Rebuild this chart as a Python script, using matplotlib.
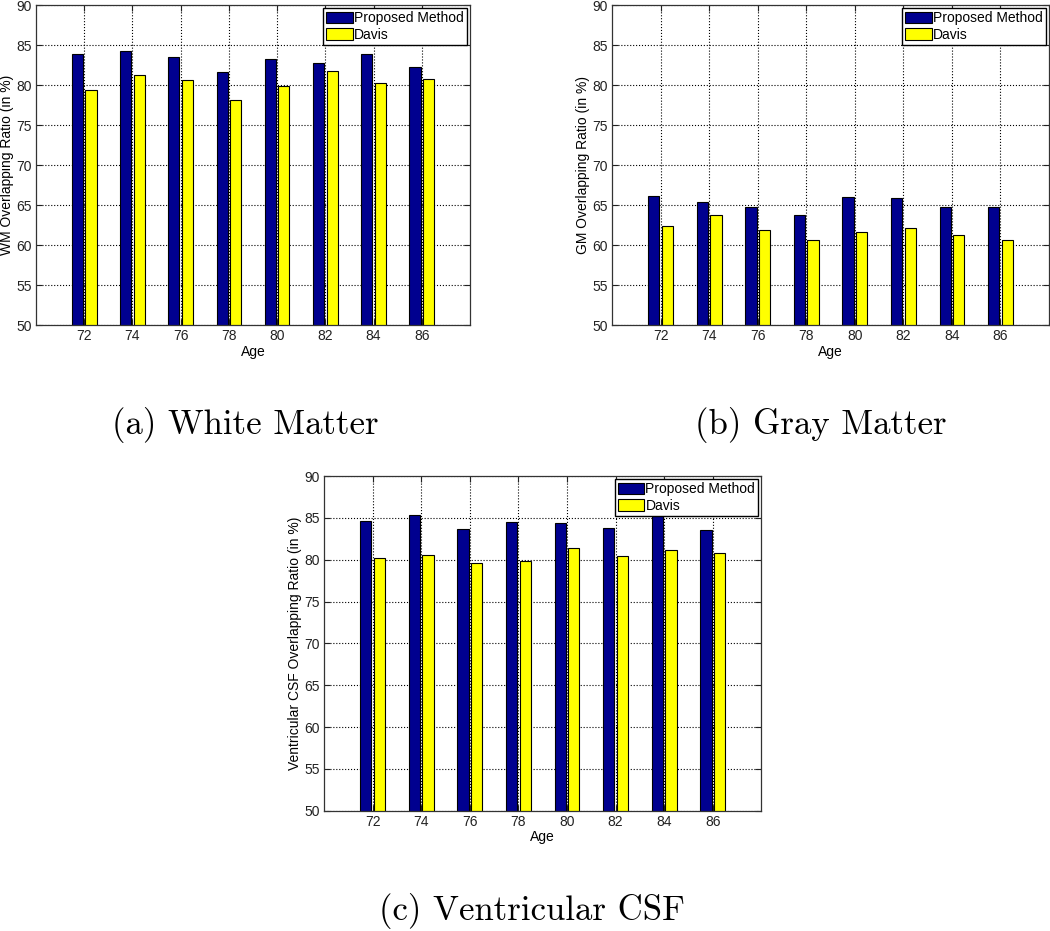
import numpy as np
import matplotlib
matplotlib.use('Agg')
import matplotlib.pyplot as plt

# Datos
ages = [72, 74, 76, 78, 80, 82, 84, 86]
series_names = ['Proposed Method', 'Davis']

wm_proposed = [83.9, 84.2, 83.5, 81.6, 83.3, 82.8, 83.9, 82.2]
wm_davis = [79.4, 81.3, 80.6, 78.1, 79.9, 81.8, 80.2, 80.7]

gm_proposed = [66.1, 65.4, 64.8, 63.7, 66.0, 65.9, 64.8, 64.8]
gm_davis = [62.4, 63.8, 61.9, 60.6, 61.6, 62.1, 61.2, 60.6]

csf_proposed = [84.6, 85.3, 83.7, 84.5, 84.4, 83.8, 85.3, 83.5]
csf_davis = [80.2, 80.6, 79.6, 79.9, 81.4, 80.4, 81.2, 80.8]

ylabels = ['WM Overlapping Ratio (in %)',
           'GM Overlapping Ratio (in %)',
           'Ventricular CSF Overlapping Ratio (in %)']
captions = ['(a) White Matter', '(b) Gray Matter', '(c) Ventricular CSF']

plt.rcParams['font.family'] = ['Liberation Sans', 'DejaVu Sans']

fig = plt.figure(figsize=(10.5, 9.31), dpi=100)

# Posiciones de los ejes (fraccion de figura)
positions = [
    [0.0343, 0.6509, 0.4133, 0.3437],
    [0.5829, 0.6509, 0.4162, 0.3437],
    [0.3086, 0.1292, 0.4166, 0.3595],
]
datasets = [(wm_proposed, wm_davis), (gm_proposed, gm_davis), (csf_proposed, csf_davis)]

x = np.array(ages, dtype=float)
offset = 0.28
width = 0.46

for pos, (prop, dav), ylab in zip(positions, datasets, ylabels):
    ax = fig.add_axes(pos)
    ax.bar(x - offset, prop, width=width, color='#00008F', edgecolor='black',
           linewidth=0.8, label=series_names[0], zorder=2)
    ax.bar(x + offset, dav, width=width, color='#FFFF00', edgecolor='black',
           linewidth=0.8, label=series_names[1], zorder=2)
    ax.set_xlim(70, 88)
    ax.set_ylim(50, 90)
    ax.set_xticks(ages)
    ax.set_yticks(np.arange(50, 91, 5))
    ax.set_axisbelow(True)
    ax.grid(True, linestyle=':', color='black', linewidth=0.8)
    ax.tick_params(direction='in', top=True, right=True, length=4,
                   labelsize=10, pad=3, colors='#222222')
    for s in ax.spines.values():
        s.set_color('#333333')
        s.set_linewidth(0.9)
    ax.set_xlabel('Age', fontsize=10, labelpad=1)
    ax.set_ylabel(ylab, fontsize=10, labelpad=2)
    leg = ax.legend(loc='upper right', fontsize=10, fancybox=False,
                    edgecolor='black', framealpha=1, handlelength=1.9,
                    handleheight=0.95, handletextpad=0.1, labelspacing=0.2,
                    borderpad=0.2, borderaxespad=0.25)
    leg.get_frame().set_linewidth(1.0)
    leg.set_zorder(5)

# Subtitulos
fig.text(245 / 1050, 1 - 425 / 931, captions[0], family='cmr10', fontsize=25,
         ha='center', va='center')
fig.text(821 / 1050, 1 - 425 / 931, captions[1], family='cmr10', fontsize=25,
         ha='center', va='center')
fig.text(532 / 1050, 1 - 911 / 931, captions[2], family='cmr10', fontsize=25,
         ha='center', va='center')

fig.savefig('out.png', dpi=100, facecolor='white')
